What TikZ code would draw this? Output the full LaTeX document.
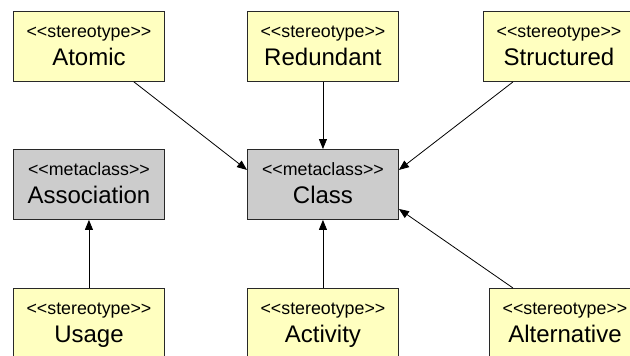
\documentclass[tikz,border=0pt]{standalone}
\usepackage{fontspec}
\setmainfont{Liberation Sans}
\usetikzlibrary{calc,arrows.meta}

\definecolor{stereofill}{RGB}{255,255,192}
\definecolor{metafill}{RGB}{204,204,204}
\definecolor{boxline}{RGB}{40,40,40}

\tikzset{
  umlbox/.style={draw=boxline, line width=0.9pt, minimum width=151pt, minimum height=70pt,
    inner sep=0pt, anchor=north west},
  stereobox/.style={umlbox, fill=stereofill},
  metabox/.style={umlbox, fill=metafill},
  kindtext/.style={anchor=base, font=\fontsize{17.8}{20}\selectfont, inner sep=0pt},
  nametext/.style={anchor=base, font=\fontsize{24}{28}\selectfont, inner sep=0pt},
  extends/.style={draw=black, line width=0.8pt, -{Triangle[length=10pt,width=8pt]}}
}

% guillemet-free keyword brackets (kerns keep the TeX mapping from merging them)
\newcommand{\kwopen}{<\kern0pt<\kern0pt}
\newcommand{\kwclose}{\kern0pt>\kern0pt>}

% a box with its keyword line and its name line
\newcommand{\umlelement}[5]{%
  \node[#1] (#2) at (#3) {};
  \node[kindtext] (#2-kind) at ($(#2.north)+(0,26)$) {\kwopen#4\kwclose};
  \node[nametext] (#2-name) at ($(#2.north)+(0,54)$) {#5};
}

\begin{document}
\begin{tikzpicture}[x=1pt, y=-1pt]
  \useasboundingbox (0,0) rectangle (630,356);
  \clip (0,0) rectangle (630,356);
  \fill[white] (0,0) rectangle (630,356);

  % top row
  \umlelement{stereobox}{atomic}{13,11}{stereotype}{Atomic}
  \umlelement{stereobox}{redundant}{247,11}{stereotype}{Redundant}
  \umlelement{stereobox}{structured}{483,11}{stereotype}{Structured}

  % metaclasses
  \umlelement{metabox}{association}{13,149}{metaclass}{Association}
  \umlelement{metabox}{class}{247,149}{metaclass}{Class}

  % bottom row
  \umlelement{stereobox}{usage}{13,288}{stereotype}{Usage}
  \umlelement{stereobox}{activity}{247,288}{stereotype}{Activity}
  \umlelement{stereobox}{alternative}{489,288}{stereotype}{Alternative}

  % extension arrows
  \draw[extends] ($(atomic.south)+(45,0)$) -- ($(class.west)+(0,-14.5)$);
  \draw[extends] (redundant.south) -- (class.north);
  \draw[extends] ($(structured.south west)+(30,0)$) -- ($(class.east)+(0,-14.5)$);
  \draw[extends] ($(alternative.north west)+(24,0)$) -- ($(class.east)+(0,24.5)$);
  \draw[extends] (activity.north) -- (class.south);
  \draw[extends] (usage.north) -- (association.south);
\end{tikzpicture}
\end{document}
